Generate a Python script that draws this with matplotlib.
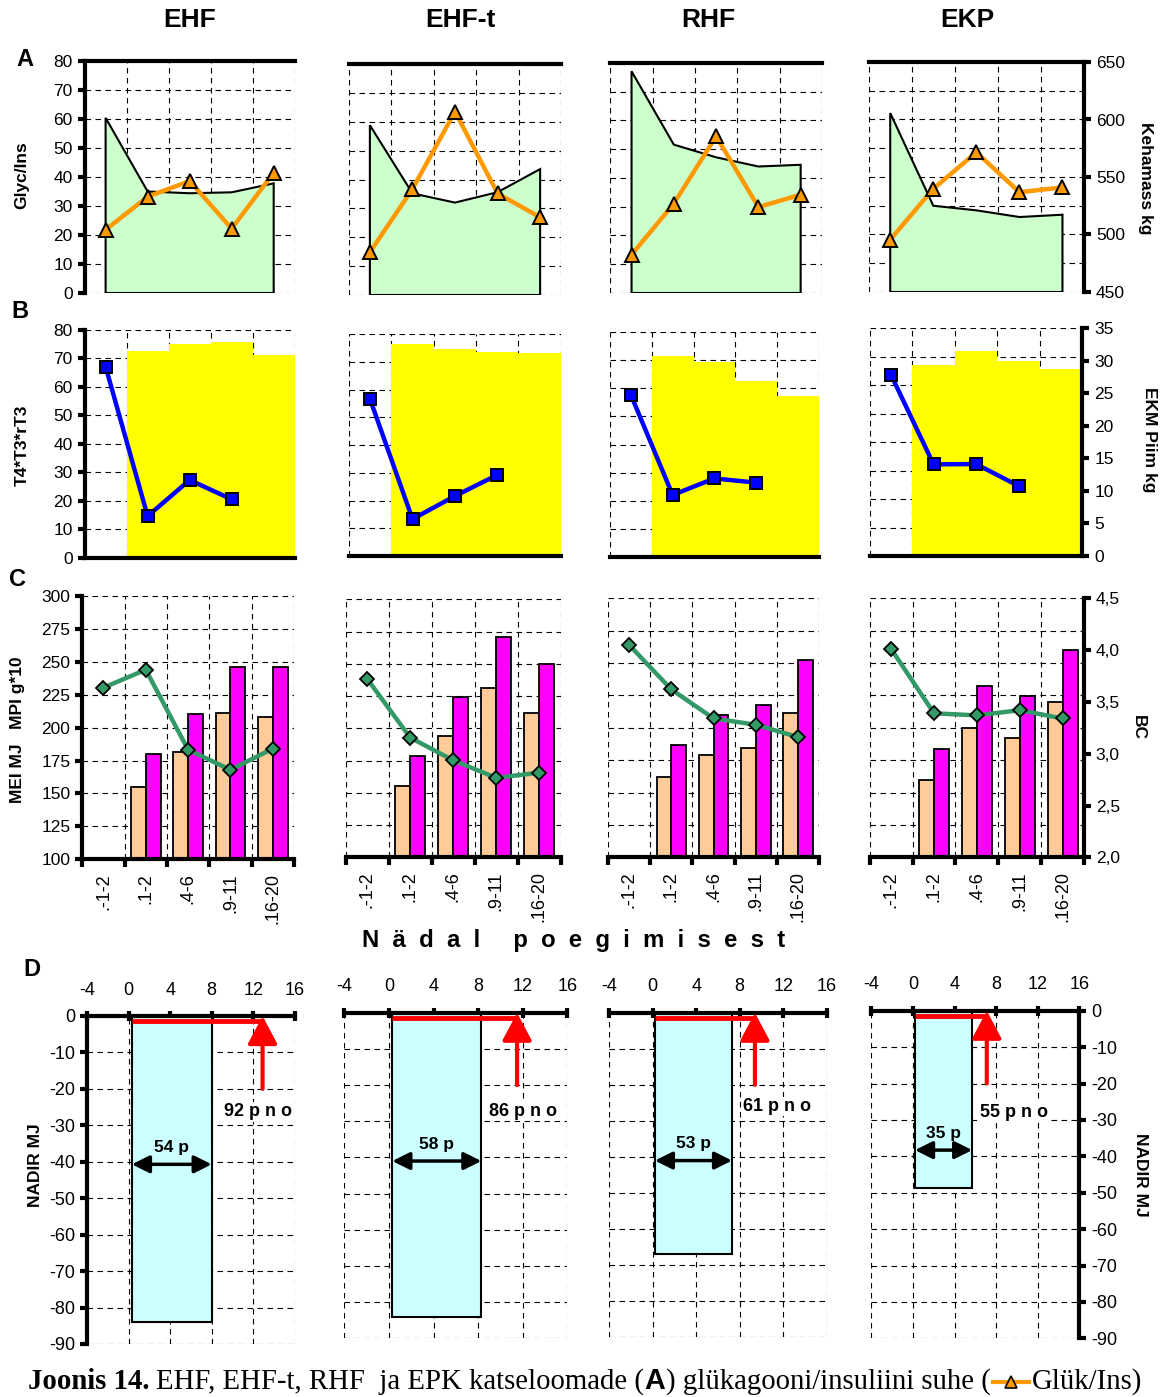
import numpy as np
import matplotlib
matplotlib.use("Agg")
import matplotlib.pyplot as plt
from matplotlib.ticker import FixedLocator, FuncFormatter
from matplotlib.lines import Line2D

# -----------------------------
# DATA
# -----------------------------
groups = ["EHF", "EHF-t", "RHF", "EKP"]
weeks = [".-1-2", ".1-2", ".4-6", ".9-11", ".16-20"]

# A: glucagon/insulin ratio (left) and body mass kg (right)
glyc_ins = [
    [21.8, 33.2, 38.6, 22.2, 41.5],
    [14.8, 36.7, 63.5, 35.2, 26.9],
    [13.3, 31.1, 54.5, 29.9, 34.2],
    [18.2, 35.9, 48.6, 34.7, 36.4],
]
body_kg = [
    [601.0, 537.5, 536.0, 536.8, 544.5],
    [597.0, 538.0, 530.0, 539.0, 559.0],
    [642.8, 579.0, 568.0, 560.0, 561.5],
    [605.6, 525.0, 521.0, 515.2, 517.2],
]

# B: T4*T3*rT3 (weeks 1-4) and milk yield kg (weeks 2-5)
t4t3rt3 = [
    [67.1, 14.6, 27.3, 20.5],
    [56.4, 13.3, 21.6, 29.2],
    [57.7, 22.0, 27.9, 26.4],
    [63.6, 32.2, 32.3, 24.6],
]
milk_kg = [
    [31.7, 32.9, 33.2, 31.2],
    [33.5, 32.6, 32.2, 32.0],
    [31.3, 30.4, 27.4, 25.1],
    [29.4, 31.5, 30.0, 28.8],
]

# C: MEI MJ and MPI g*10 (weeks 2-5), body condition BC (weeks 1-5)
mei_mj = [
    [155.0, 181.8, 210.9, 208.4],
    [155.6, 193.8, 231.5, 211.9],
    [161.8, 179.0, 184.4, 211.2],
    [159.7, 199.6, 191.9, 220.0],
]
mpi_g10 = [
    [180.0, 210.1, 246.1, 246.1],
    [178.3, 224.5, 270.5, 250.1],
    [187.0, 209.7, 217.6, 252.4],
    [183.7, 232.4, 224.7, 259.9],
]
bc_score = [
    [3.63, 3.80, 3.04, 2.85, 3.05],
    [3.73, 3.16, 2.94, 2.77, 2.82],
    [4.05, 3.62, 3.34, 3.28, 3.16],
    [4.01, 3.39, 3.37, 3.42, 3.34],
]

# D: energy balance nadir
nadir_from = [0.3, 0.3, 0.2, 0.2]
nadir_to = [8.0, 8.3, 7.3, 5.7]
nadir_mj = [-84.0, -84.0, -67.0, -48.6]
nadir_days = ["54 p", "58 p", "53 p", "35 p"]
pno_week = [12.9, 11.5, 9.4, 7.1]
pno_days = ["92 p n o", "86 p n o", "61 p n o", "55 p n o"]

# -----------------------------
# LAYOUT (pixels: x0, y_top, x1, y_bottom)
# -----------------------------
W, H = 1168, 1397
RECT_A = [(84.6, 61, 294.7, 293), (348.6, 64, 561.4, 295),
          (610.4, 63, 821.8, 293), (868.7, 62, 1084, 292)]
RECT_B = [(84.6, 330, 294.7, 557.7), (349, 334, 560.7, 556),
          (610, 332.3, 818.8, 556.7), (869.8, 328.3, 1082.4, 556)]
RECT_C = [(82.3, 596, 293.9, 859.3), (345.6, 599.3, 560.7, 857.3),
          (608, 598.3, 819.2, 857.3), (869.8, 598.3, 1084, 857.3)]
RECT_D = [(87.3, 1016, 294.7, 1344), (344.4, 1012.7, 567.2, 1338.3),
          (609.2, 1012.7, 826.7, 1337.3), (871.3, 1010.7, 1079.4, 1338.3)]
ARROW_Y = [-40.7, -41.0, -41.0, -38.3]
PNO_TX = [(9.2, -26.3), (9.0, -27.3), (8.3, -26.0), (6.4, -28.0)]

GRID = dict(color="black", linestyle=(0, (5, 4)), linewidth=0.8)
TICK = 12.5
plt.rcParams["font.family"] = ["Liberation Sans", "DejaVu Sans"]
plt.rcParams["axes.unicode_minus"] = False


def px(x0, y0, x1, y1):
    return [x0 / W, 1 - y1 / H, (x1 - x0) / W, (y1 - y0) / H]


def fx(x):
    return x / W


def fy(y):
    return 1 - y / H


def thick(spine):
    spine.set_visible(True)
    spine.set_linewidth(3)
    spine.set_color("black")


def setup_pair(rect, back_ylim, back_grid, front_ylim):
    ab = fig.add_axes(px(*rect))
    af = ab.twinx()
    for a in (ab, af):
        for s in a.spines.values():
            s.set_visible(False)
    ab.set_xlim(0.5, 5.5)
    ab.set_xticks(np.arange(0.5, 6, 1))
    ab.set_ylim(back_ylim)
    ab.yaxis.set_minor_locator(FixedLocator(back_grid))
    ab.yaxis.remove_overlapping_locs = False
    ab.grid(True, axis="x", which="major", **GRID)
    ab.grid(True, axis="y", which="minor", **GRID)
    ab.tick_params(axis="both", which="both", length=0, labelleft=False,
                   labelright=False, labelbottom=False)
    af.set_ylim(front_ylim)
    af.tick_params(axis="both", which="both", length=0, labelleft=False,
                   labelright=False)
    return ab, af


fig = plt.figure(figsize=(W / 100, H / 100), dpi=100)
x = np.arange(1, len(weeks) + 1)

# -----------------------------
# ROW A
# -----------------------------
for i in range(4):
    ab, af = setup_pair(RECT_A[i], (450, 650), np.arange(450, 651, 25), (0, 80))
    ab.fill(np.r_[x[0], x, x[-1]], np.r_[450, body_kg[i], 450],
            facecolor="#ccffcc", edgecolor="black", lw=1.5, zorder=2)
    af.plot(x, glyc_ins[i], color="#ff9900", lw=3.2, marker="^", ms=10,
            mfc="#ff9900", mec="black", mew=1.4)
    thick(ab.spines["top"])
    if i == 0:
        thick(af.spines["left"])
        af.yaxis.tick_left()
        af.set_yticks(range(0, 81, 10))
        af.tick_params(axis="y", length=5, width=3, labelleft=True, labelsize=TICK)
    if i == 3:
        thick(ab.spines["right"])
        ab.yaxis.tick_right()
        ab.set_yticks(range(450, 651, 50))
        ab.tick_params(axis="y", which="major", length=5, width=3,
                       labelright=True, labelsize=TICK)

# -----------------------------
# ROW B
# -----------------------------
for i in range(4):
    ab, af = setup_pair(RECT_B[i], (0, 35), np.linspace(0, 35, 9), (0, 80))
    ab.bar(x[1:], milk_kg[i], width=1.0, color="#ffff00", zorder=2)
    af.plot(x[:4], t4t3rt3[i], color="#0000ff", lw=3.2, marker="s", ms=9,
            mfc="#0000ff", mec="black", mew=1.4)
    thick(ab.spines["bottom"])
    if i == 0:
        thick(af.spines["left"])
        af.yaxis.tick_left()
        af.set_yticks(range(0, 81, 10))
        af.tick_params(axis="y", length=5, width=3, labelleft=True, labelsize=TICK)
    if i == 3:
        thick(ab.spines["right"])
        ab.yaxis.tick_right()
        ab.set_yticks(range(0, 36, 5))
        ab.tick_params(axis="y", which="major", length=5, width=3,
                       labelright=True, labelsize=TICK)

# -----------------------------
# ROW C
# -----------------------------
for i in range(4):
    ab, af = setup_pair(RECT_C[i], (100, 300), np.arange(100, 301, 25), (2.0, 4.5))
    ab.bar(x[1:] - 0.175, mei_mj[i], width=0.35, color="#ffcc99",
           edgecolor="black", lw=1.3, zorder=2)
    ab.bar(x[1:] + 0.175, mpi_g10[i], width=0.35, color="#ff00ff",
           edgecolor="black", lw=1.3, zorder=2)
    af.plot(x, bc_score[i], color="#339966", lw=3.2, marker="D", ms=7,
            mfc="#339966", mec="black", mew=1.3)
    thick(ab.spines["bottom"])
    ab.set_xticks(x, weeks, minor=True, rotation=90)
    ab.tick_params(axis="x", which="major", length=6, width=3, direction="out")
    ab.tick_params(axis="x", which="minor", length=0, labelbottom=True,
                   labelsize=13, pad=10)
    if i == 0:
        thick(ab.spines["left"])
        ab.set_yticks(range(100, 301, 25))
        ab.tick_params(axis="y", which="major", length=5, width=3,
                       labelleft=True, labelsize=TICK)
    if i == 3:
        thick(af.spines["right"])
        af.set_yticks(np.arange(2.0, 4.51, 0.5))
        af.yaxis.set_major_formatter(FuncFormatter(lambda v, p: f"{v:.1f}".replace(".", ",")))
        af.tick_params(axis="y", length=5, width=3, labelright=True, labelsize=TICK)

# -----------------------------
# ROW D
# -----------------------------
for i in range(4):
    ax = fig.add_axes(px(*RECT_D[i]))
    for s in ax.spines.values():
        s.set_visible(False)
    ax.set_xlim(-4, 16)
    ax.set_ylim(-90, 0)
    ax.set_xticks(range(-4, 17, 4))
    ax.set_yticks(range(-90, 1, 10))
    ax.xaxis.tick_top()
    ax.grid(True, **GRID)
    ax.set_axisbelow(True)
    thick(ax.spines["top"])
    ax.tick_params(axis="x", length=7, width=3, direction="inout",
                   labelsize=13, pad=9)
    ax.tick_params(axis="y", length=0, labelleft=False, labelright=False)
    if i == 0:
        thick(ax.spines["left"])
        ax.tick_params(axis="y", length=5, width=3, labelleft=True, labelsize=13)
    if i == 3:
        thick(ax.spines["right"])
        ax.yaxis.tick_right()
        ax.tick_params(axis="y", length=5, width=3, labelright=True, labelsize=13)

    ax.bar(nadir_from[i], nadir_mj[i], width=nadir_to[i] - nadir_from[i],
           align="edge", color="#ccffff", edgecolor="black", lw=1.5, zorder=2)
    ax.plot([nadir_from[i], pno_week[i]], [-1.5, -1.5], color="red", lw=3.5,
            zorder=3, solid_capstyle="butt")
    ax.annotate("", xy=(pno_week[i], 0), xytext=(pno_week[i], -20),
                arrowprops=dict(arrowstyle="-|>,head_width=0.45,head_length=0.85",
                                mutation_scale=20, color="red", lw=3,
                                shrinkA=0, shrinkB=0), zorder=4)
    ya = ARROW_Y[i]
    ax.annotate("", xy=(nadir_from[i], ya), xytext=(nadir_to[i], ya),
                arrowprops=dict(arrowstyle="<|-|>,head_width=0.35,head_length=0.7",
                                mutation_scale=15, color="black", lw=2.5,
                                shrinkA=0, shrinkB=0), zorder=4)
    ax.text((nadir_from[i] + nadir_to[i]) / 2, ya + 4.6, nadir_days[i],
            ha="center", va="center", fontsize=12.5, fontweight="bold", zorder=5)
    ax.text(PNO_TX[i][0], PNO_TX[i][1], pno_days[i], ha="left", va="center",
            fontsize=13, fontweight="bold", zorder=5,
            bbox=dict(facecolor="white", edgecolor="none", pad=1))

# -----------------------------
# FIGURE TEXT
# -----------------------------
for name, cx in zip(groups, [190, 460, 708, 967]):
    fig.text(fx(cx), fy(20), name, ha="center", va="center", fontsize=19,
             fontweight="bold")
for letter, lx, ly in [("A", 25, 60), ("B", 20, 312), ("C", 18, 580), ("D", 32, 969)]:
    fig.text(fx(lx), fy(ly), letter, ha="center", va="center", fontsize=17,
             fontweight="bold")

ylabels = [("Glyc/Ins", 22, 175, 90), ("T4*T3*rT3", 22, 445, 90),
           ("MEI MJ   MPI g*10", 18, 730, 90), ("NADIR MJ", 36, 1165, 90),
           ("Kehamass kg", 1145, 178, -90), ("EKM Piim kg", 1150, 440, -90),
           ("BC", 1138, 728, -90), ("NADIR MJ", 1140, 1175, -90)]
for txt, lx, ly, rot in ylabels:
    fig.text(fx(lx), fy(ly), txt, ha="center", va="center", rotation=rot,
             fontsize=12.5, fontweight="bold")

fig.text(fx(574), fy(941), "N  ä  d  a  l     p  o  e  g  i  m  i  s  e  s  t",
         ha="center", va="center", fontsize=17.2, fontweight="bold")

# caption built piece by piece
renderer = fig.canvas.get_renderer()
serif = ["Liberation Serif", "DejaVu Serif"]
cap_y = fy(1389)
cap_size = 20.7
xcur = fx(28)
pieces = [
    ("Joonis 14.", dict(family=serif, fontweight="bold"), 6),
    ("EHF, EHF-t, RHF  ja EPK katseloomade (", dict(family=serif), 1),
    ("A", dict(fontweight="bold"), 1),
    (") glükagooni/insuliini suhe (", dict(family=serif), 2),
]
for txt, props, gap in pieces:
    t = fig.text(xcur, cap_y, txt, va="baseline", ha="left", fontsize=cap_size, **props)
    xcur += (t.get_window_extent(renderer).width + gap) / W

mid_y = cap_y + 7 / H
fig.add_artist(Line2D([xcur, xcur + 36 / W], [mid_y, mid_y], transform=fig.transFigure,
                      color="#ff9900", lw=3))
fig.add_artist(Line2D([xcur + 18 / W], [mid_y], transform=fig.transFigure,
                      marker="^", ms=9, mfc="#ff9900", mec="black", mew=1.2, lw=0))
xcur += 39 / W
fig.text(xcur, cap_y, "Glük/Ins)", va="baseline", ha="left", fontsize=cap_size,
         family=serif)

fig.savefig("out.png", dpi=100)
